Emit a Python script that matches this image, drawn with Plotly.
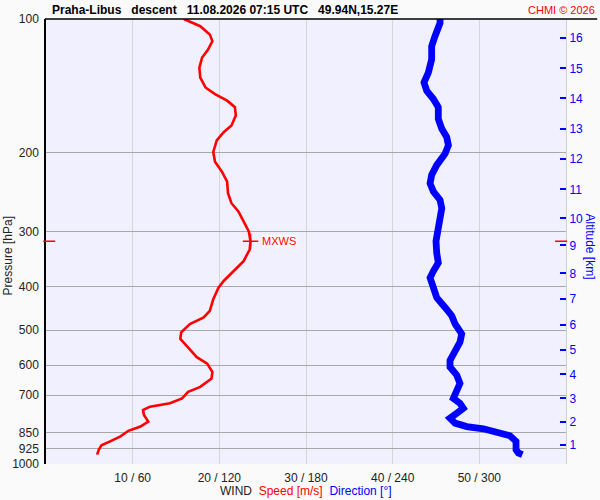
import math
import plotly.graph_objects as go

# ---- data ----
speed_p = [100, 103.8, 108.4, 112.1, 117.1, 122.2, 128.6, 135.4, 142.5, 147.5, 152.6, 157.9,
           164.8, 173.5, 179.6, 187.4, 199, 209.4, 220.4, 232, 246.4, 259.4, 270.7, 285, 300,
           315.8, 329.6, 350, 368.5, 387.9, 401.5, 426.1, 452.5, 468.4, 484.6, 505.9, 523.3,
           546.4, 575.2, 594.9, 621.1, 642.5, 670.8, 688.3, 712, 730.5, 743.4, 756.2, 775.8,
           802.9, 823.8, 842.2, 866.9, 889.5, 908, 928.3, 952.4]
speed_v = [15.9, 17.8, 18.9, 19.2, 18.7, 18.0, 17.7, 17.8, 18.4, 19.5, 20.9, 21.8,
           21.9, 21.4, 20.5, 19.7, 19.3, 19.5, 20.3, 20.9, 21.0, 21.4, 22.2, 22.8, 23.4,
           23.6, 23.5, 22.8, 21.6, 20.5, 19.9, 19.3, 18.9, 18.2, 16.6, 15.6, 15.5,
           16.4, 17.4, 18.6, 19.2, 19.1, 17.8, 16.4, 15.7, 14.3, 12.0, 11.2, 11.3,
           11.8, 10.9, 9.5, 8.6, 7.4, 6.4, 6.1, 5.9]

dir_p = [100, 102.1, 109.3, 115.1, 123.2, 132.0, 138.9, 145.0, 151.3, 157.9, 167.7, 176.5,
         184.2, 192.2, 200.7, 213.0, 224.1, 234.2, 244.3, 255.0, 266.2, 282.6, 300.0, 315.8,
         335.5, 353.1, 368.5, 381.4, 401.5, 422.7, 444.8, 464.2, 484.6, 510.0, 532.4, 555.6,
         584.8, 605.3, 631.5, 659.2, 693.9, 712.0, 730.5, 749.6, 769.0, 788.9, 809.4, 823.8,
         833.4, 847.8, 864.0, 889.5, 928.3, 944.1, 952.4]
dir_v = [272.8, 272.8, 269.3, 267.0, 267.0, 264.7, 261.7, 263.6, 268.2, 271.6, 271.6, 274.0,
         277.4, 278.6, 276.3, 270.5, 267.0, 265.9, 268.2, 272.8, 274.0, 272.8, 270.5, 270.0,
         270.5, 271.6, 268.2, 265.9, 268.2, 270.5, 276.3, 280.9, 283.2, 287.8, 286.6, 283.2,
         279.7, 279.7, 284.4, 286.6, 283.2, 282.0, 286.6, 288.9, 284.4, 279.7, 283.2, 291.3,
         302.8, 314.3, 321.2, 325.4, 325.4, 327.0, 329.8]

p_ticks = [100, 200, 300, 400, 500, 600, 700, 850, 925, 1000]
x_ticks = [10, 20, 30, 40, 50]
x_labels = ["10 / 60", "20 / 120", "30 / 180", "40 / 240", "50 / 300"]

alt_km = ["16", "15", "14", "13", "12", "11", "10", "9", "8", "7", "6", "5", "4", "3", "2", "1"]
alt_p = [110.2, 129.1, 150.8, 176.5, 206.5, 241.4, 280.7, 322.8, 372.8, 425.5, 486.8,
         553.5, 629.3, 712.0, 805.3, 906.2]

mxws_p = 315.8
mxws_v = 23.6

title_text = "Praha-Libus\u00a0\u00a0 descent\u00a0\u00a0 11.08.2026 07:15 UTC\u00a0\u00a0 49.94N,15.27E"

FONT = "Liberation Sans, Arial, sans-serif"

fig = go.Figure()
fig.add_trace(go.Scatter(x=speed_v, y=speed_p, mode="lines",
                         line=dict(color="#ff0000", width=2.6), xaxis="x", yaxis="y",
                         showlegend=False, hoverinfo="skip"))
fig.add_trace(go.Scatter(x=dir_v, y=dir_p, mode="lines",
                         line=dict(color="#0000ff", width=6.8), xaxis="x2", yaxis="y",
                         showlegend=False, hoverinfo="skip"))
fig.add_trace(go.Scatter(x=[mxws_v], y=[mxws_p], mode="markers",
                         marker=dict(symbol="cross-thin", size=11,
                                     line=dict(color="#ff0000", width=1.5)),
                         xaxis="x", yaxis="y", showlegend=False, hoverinfo="skip"))
# invisible trace to activate y2
fig.add_trace(go.Scatter(x=[None], y=[None], xaxis="x", yaxis="y2", showlegend=False))

yr = [math.log10(1000), math.log10(100)]

fig.update_layout(
    width=600, height=500,
    margin=dict(l=46, r=34, t=16, b=35.5),
    paper_bgcolor="#fafafa",
    plot_bgcolor="#f0f0ff",
    font=dict(family=FONT, size=12, color="#222222"),
    xaxis=dict(range=[0, 60], tickvals=x_ticks, ticktext=x_labels, showgrid=True,
               gridcolor="#d6d6d6", gridwidth=1, zeroline=False, showline=False,
               ticks="", ticklabelstandoff=5, tickfont=dict(size=12, color="#222222")),
    xaxis2=dict(range=[0, 360], overlaying="x", side="top", showgrid=False,
                showticklabels=False, ticks="", zeroline=False, showline=False),
    yaxis=dict(type="log", range=yr, tickvals=p_ticks, ticktext=[str(v) for v in p_ticks],
               showgrid=True, gridcolor="#a8a8a8", gridwidth=1, zeroline=False,
               showline=True, linecolor="#000000", linewidth=1.5, ticks="outside",
               ticklen=3, tickcolor="rgba(0,0,0,0)", tickfont=dict(size=12, color="#222222")),
    yaxis2=dict(type="log", range=yr, overlaying="y", side="right", tickvals=alt_p,
                ticktext=alt_km, showgrid=False, zeroline=False, showline=True,
                linecolor="#d0d0d0", linewidth=1, ticks="inside", ticklen=6,
                tickcolor="#0000ff", tickwidth=1.5,
                tickfont=dict(size=12, color="#0000ff")),
)

shapes = [
    dict(type="line", xref="paper", yref="paper", x0=-0.002, x1=1.06, y0=1, y1=1,
         line=dict(color="#000000", width=1.5)),
    dict(type="line", xref="paper", yref="y", x0=-0.0054, x1=0.0177, y0=mxws_p, y1=mxws_p,
         line=dict(color="#ff0000", width=1.5)),
    dict(type="line", xref="paper", yref="y", x0=0.979, x1=1.002, y0=mxws_p, y1=mxws_p,
         line=dict(color="#ff0000", width=1.5)),
]
fig.update_layout(shapes=shapes)

ann = [
    dict(text="<b>" + title_text + "</b>", xref="paper", yref="paper", x=0.008, y=1.0205,
         xanchor="left", yanchor="middle", showarrow=False,
         font=dict(size=12, color="#000000")),
    dict(text="CHMI © 2026", xref="paper", yref="paper", x=1.0596, y=1.0205,
         xanchor="right", yanchor="middle", showarrow=False,
         font=dict(size=11, color="#ff0000")),
    dict(text="Pressure [hPa]", xref="paper", yref="paper", x=-0.0727, y=0.467,
         textangle=-90, xanchor="center", yanchor="middle", showarrow=False,
         font=dict(size=12, color="#222222")),
    dict(text="Altitude [km]", xref="paper", yref="paper", x=1.046, y=0.489,
         textangle=90, xanchor="center", yanchor="middle", showarrow=False,
         font=dict(size=12, color="#0000ff")),
    dict(text="WIND\u00a0 <span style='color:#ff0000'>Speed [m/s]</span>\u00a0 "
              "<span style='color:#0000ff'>Direction [°]</span>",
         xref="paper", yref="paper", x=0.5, y=-0.06, xanchor="center", yanchor="middle",
         showarrow=False, font=dict(size=12, color="#222222")),
    dict(text="MXWS", xref="x", yref="y", x=mxws_v, y=math.log10(mxws_p), xshift=10,
         xanchor="left", yanchor="middle", showarrow=False,
         bgcolor="rgba(255,255,255,0.6)", borderpad=0,
         font=dict(size=11, color="#ff0000")),
]
fig.update_layout(annotations=ann)

fig.write_html("out.html", config={"displayModeBar": False},
               post_script="document.body.style.margin='0';")
